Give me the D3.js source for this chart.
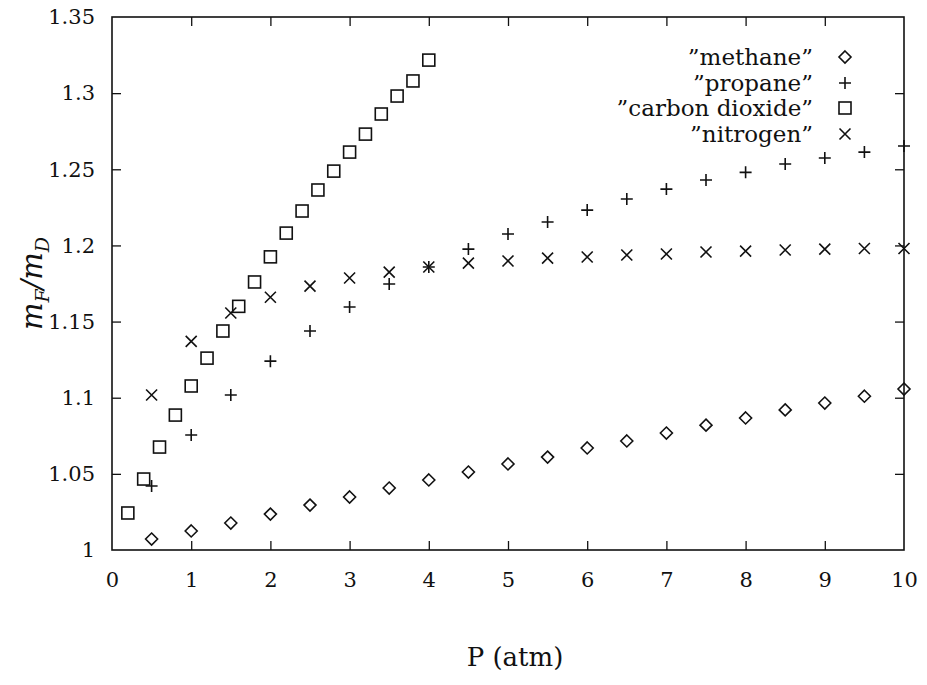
<!DOCTYPE html>
<html>
<head>
<meta charset="utf-8">
<script src="https://cdn.jsdelivr.net/npm/d3@7"></script>
<style>
  html, body { margin: 0; padding: 0; background: #fff; }
  svg { display: block; }
  text { font-family: "DejaVu Serif", "Liberation Serif", serif; fill: #111; }
</style>
</head>
<body>
<svg id="chart" width="927" height="685"></svg>
<script>
// ---- data ----
const xTicks = [0, 1, 2, 3, 4, 5, 6, 7, 8, 9, 10];
const yTicks = [1, 1.05, 1.1, 1.15, 1.2, 1.25, 1.3, 1.35];
const yTickLabels = ["1", "1.05", "1.1", "1.15", "1.2", "1.25", "1.3", "1.35"];

const seriesNames = ["\u201dmethane\u201d", "\u201dpropane\u201d", "\u201dcarbon dioxide\u201d", "\u201dnitrogen\u201d"];
const seriesSymbols = ["diamond", "plus", "square", "cross"];

const pHalf = [0.5, 1, 1.5, 2, 2.5, 3, 3.5, 4, 4.5, 5, 5.5, 6, 6.5, 7, 7.5, 8, 8.5, 9, 9.5, 10];
const pCO2 = [0.2, 0.4, 0.6, 0.8, 1.0, 1.2, 1.4, 1.6, 1.8, 2.0, 2.2, 2.4, 2.6, 2.8, 3.0, 3.2, 3.4, 3.6, 3.8, 4.0];

const methane = [1.0072, 1.0125, 1.0177, 1.0236, 1.0295, 1.0348, 1.0407, 1.046, 1.0512, 1.0565,
                 1.061, 1.067, 1.0716, 1.0768, 1.082, 1.0867, 1.092, 1.0965, 1.101, 1.1057];
const propane = [1.042, 1.0755, 1.1018, 1.124, 1.1438, 1.1596, 1.1747, 1.1858, 1.1976, 1.2075,
                 1.2154, 1.2232, 1.2305, 1.237, 1.243, 1.248, 1.2535, 1.2574, 1.2613, 1.2653];
const carbonDioxide = [1.0243, 1.0466, 1.0676, 1.0886, 1.1077, 1.126, 1.1438, 1.160, 1.176, 1.1925,
                       1.2081, 1.2226, 1.2364, 1.2488, 1.2613, 1.2731, 1.2863, 1.2981, 1.308, 1.3217];
const nitrogen = [1.1018, 1.137, 1.1556, 1.166, 1.1733, 1.1786, 1.1825, 1.1858, 1.1884, 1.1898,
                  1.1917, 1.1924, 1.1937, 1.1944, 1.1957, 1.1963, 1.197, 1.1976, 1.198, 1.198];

const seriesX = [pHalf, pHalf, pCO2, pHalf];
const seriesY = [methane, propane, carbonDioxide, nitrogen];

// ---- layout ----
const svg = d3.select("#chart");
const L = 112, R = 904, T = 17, B = 550;
const x = d3.scaleLinear().domain([0, 10]).range([L, R]);
const y = d3.scaleLinear().domain([1, 1.35]).range([B, T]);
const tickLen = 9;
const ink = "#111";

// frame
svg.append("rect").attr("x", L).attr("y", T).attr("width", R - L).attr("height", B - T)
  .attr("fill", "none").attr("stroke", ink).attr("stroke-width", 1.6);

function styleAxis(g, fs) {
  g.select(".domain").remove();
  g.selectAll(".tick line").attr("stroke", ink).attr("stroke-width", 1.3);
  g.selectAll(".tick text").attr("font-size", fs).attr("fill", ink)
    .attr("font-family", "'DejaVu Serif', serif");
}

// bottom axis with labels
const gx = svg.append("g").attr("transform", `translate(0,${B})`)
  .call(d3.axisBottom(x).tickValues(xTicks).tickFormat(d3.format("d")).tickSizeInner(-tickLen).tickSizeOuter(0).tickPadding(22));
styleAxis(gx, 21);
// top mirror ticks
const gxt = svg.append("g").attr("transform", `translate(0,${T})`)
  .call(d3.axisTop(x).tickValues(xTicks).tickFormat(() => "").tickSizeInner(-tickLen).tickSizeOuter(0));
styleAxis(gxt, 21);
// left axis with labels
const gy = svg.append("g").attr("transform", `translate(${L},0)`)
  .call(d3.axisLeft(y).tickValues(yTicks).tickFormat((d, i) => yTickLabels[i]).tickSizeInner(-tickLen).tickSizeOuter(0).tickPadding(17));
styleAxis(gy, 21);
// right mirror ticks
const gyr = svg.append("g").attr("transform", `translate(${R},0)`)
  .call(d3.axisRight(y).tickValues(yTicks).tickFormat(() => "").tickSizeInner(-tickLen).tickSizeOuter(0));
styleAxis(gyr, 21);

// remove tick lines at the corners (frame already draws them)
gx.selectAll(".tick line").filter(d => d === 0 || d === 10).remove();
gxt.selectAll(".tick line").filter(d => d === 0 || d === 10).remove();
gy.selectAll(".tick line").filter(d => d === 1 || d === 1.35).remove();
gyr.selectAll(".tick line").filter(d => d === 1 || d === 1.35).remove();

// ---- symbols ----
function drawSymbol(g, type, cx, cy) {
  const sw = 1.6;
  if (type === "diamond") {
    const r = 6;
    g.append("path").attr("d", `M${cx},${cy - r}L${cx + r},${cy}L${cx},${cy + r}L${cx - r},${cy}Z`)
      .attr("fill", "none").attr("stroke", ink).attr("stroke-width", sw);
  } else if (type === "plus") {
    const r = 6;
    g.append("path").attr("d", `M${cx - r},${cy}H${cx + r}M${cx},${cy - r}V${cy + r}`)
      .attr("fill", "none").attr("stroke", ink).attr("stroke-width", sw);
  } else if (type === "square") {
    const r = 6;
    g.append("rect").attr("x", cx - r).attr("y", cy - r).attr("width", 2 * r).attr("height", 2 * r)
      .attr("fill", "none").attr("stroke", ink).attr("stroke-width", sw);
  } else if (type === "cross") {
    const r = 5.5;
    g.append("path").attr("d", `M${cx - r},${cy - r}L${cx + r},${cy + r}M${cx - r},${cy + r}L${cx + r},${cy - r}`)
      .attr("fill", "none").attr("stroke", ink).attr("stroke-width", sw);
  }
}

const pts = svg.append("g");
seriesY.forEach((vals, s) => {
  vals.forEach((v, i) => drawSymbol(pts, seriesSymbols[s], x(seriesX[s][i]), y(v)));
});

// ---- legend ----
const legY = [57, 83, 108, 134];
const leg = svg.append("g");
seriesNames.forEach((name, i) => {
  leg.append("text").attr("x", 813).attr("y", legY[i]).attr("dy", "0.35em")
    .attr("text-anchor", "end").attr("font-size", 23).text(name);
  drawSymbol(leg, seriesSymbols[i], 845, legY[i]);
});

// ---- axis titles ----
svg.append("text").attr("x", 515).attr("y", 666).attr("text-anchor", "middle")
  .attr("font-size", 26).text("P (atm)");

const yl = svg.append("text")
  .attr("transform", `translate(42,${(T + B) / 2}) rotate(-90)`)
  .attr("text-anchor", "middle").attr("font-size", 29).attr("font-style", "italic");
yl.append("tspan").text("m");
yl.append("tspan").attr("font-size", 19).attr("dy", 7).text("F");
yl.append("tspan").attr("dy", -7).text("/m");
yl.append("tspan").attr("font-size", 19).attr("dy", 7).text("D");
</script>
</body>
</html>
